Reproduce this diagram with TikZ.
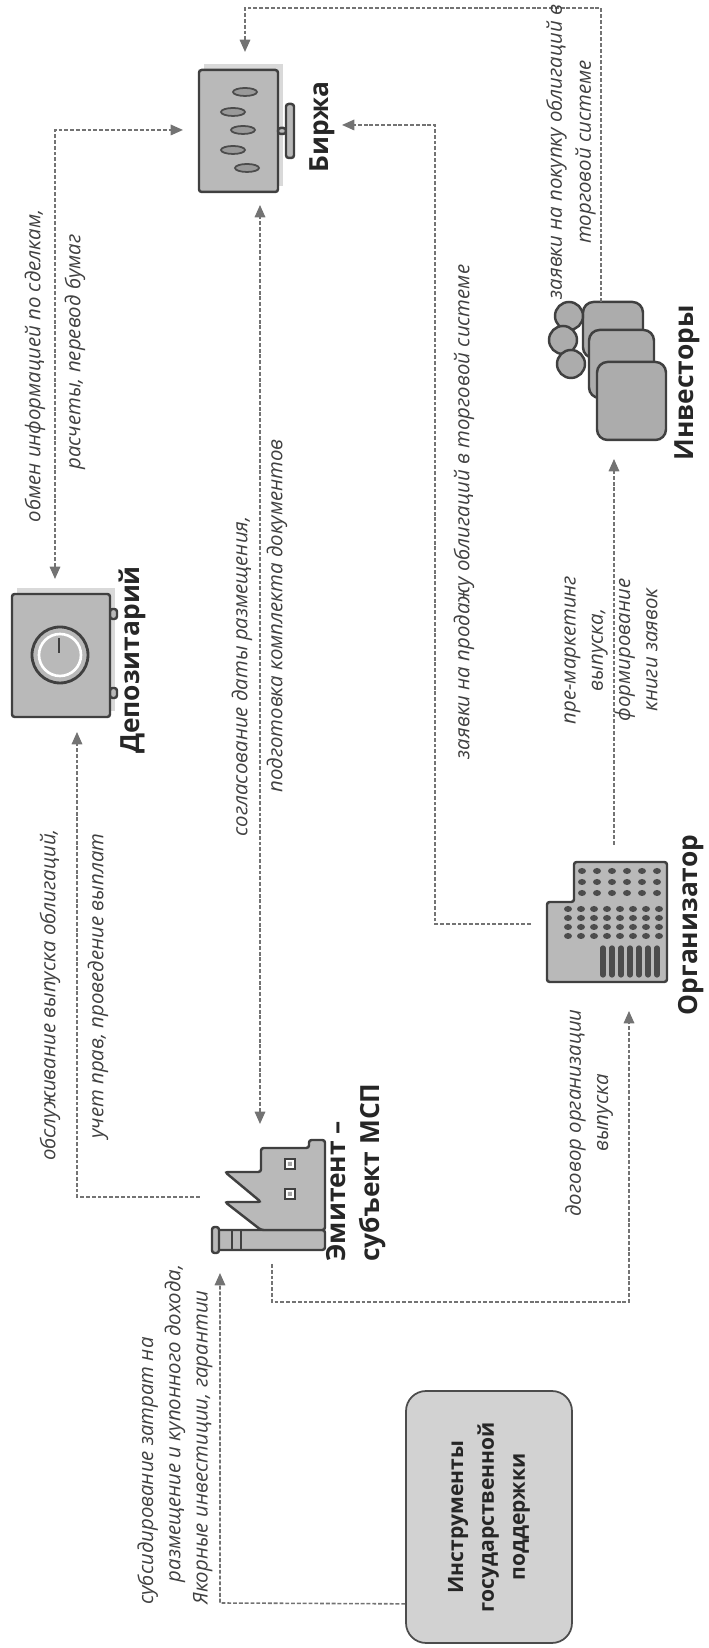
\documentclass[tikz,border=0pt]{standalone}
\usepackage{fontspec}
\setmainfont{Open Sans}
\usetikzlibrary{arrows.meta,calc,shapes}

\begin{document}
\begin{tikzpicture}[x=0.02cm, y=0.02cm, rotate=90, transform shape,
 conn/.style = {draw=black!55, line width=0.9pt, dash pattern=on 2.2pt off 1.1pt,
   >={Triangle[length=7pt, width=6pt]}},
 lbl/.style = {font=\bfseries\fontsize{15}{19}\selectfont, text=black!85, inner sep=0pt, align=left},
 note/.style = {font=\itshape\fontsize{11.6}{15.5}\selectfont, text=black!75, inner sep=0pt, align=center},
 icon/.style = {fill=gray!55, draw=black!75, line width=1.4pt, rounded corners=1.5pt}]

\useasboundingbox (0,0) rectangle (1648,709);

\node[draw=black!70, fill=gray!35, rounded corners=0.4cm, line width=1pt,
 minimum width=5.04cm, minimum height=3.32cm, align=center,
 font=\bfseries\fontsize{12}{17.6}\selectfont, text=black!85] (Gos) at (131,220)
 {Инструменты\\государственной\\поддержки};

\fill[gray!30] (1462,426) rectangle (1584,505);
\draw[icon] (1456,431) rectangle (1578,510);
\draw[icon] (1514,423) rectangle (1520,431);
\draw[icon] (1490,415) rectangle (1544,423);
\foreach \p in {(1556,464),(1536,476),(1518,466),(1498,476),(1480,462)}
 \draw[fill=gray!80, draw=black!70, line width=1pt] \p ellipse (4 and 12);

\fill[gray!30] (937,594) rectangle (1060,692);
\draw[icon] (950,592) rectangle (960,599);
\draw[icon] (1029,592) rectangle (1039,599);
\draw[icon] (931,599) rectangle (1054,697);
\draw[fill=gray!55, draw=black!75, line width=1.6pt] (993,649) circle (28);
\draw[draw=white, line width=1.5pt] (993,649) circle (21);
\draw[black!75, line width=1.6pt] (995,650) -- (1010,650);

\draw[icon] (398,384) rectangle (418,492);
\draw[icon] (395,490) rectangle (421,497);
\draw[black!75, line width=1pt] (398,468) -- (418,468) (398,477) -- (418,477);
\draw[icon] (418,384) -- (418,448) -- (446,484) -- (446,448) -- (476,484) -- (476,448)
 -- (500,448) -- (500,400) -- (508,400) -- (508,384) -- cycle;
\draw[fill=white, draw=black!75, line width=1pt] (449,414) rectangle (459,424) (479,414) rectangle (489,424);
\fill[gray!70] (452,417) rectangle (456,421) (482,417) rectangle (486,421);

\draw[icon] (666,42) -- (786,42) -- (786,135) -- (746,135) -- (746,162) -- (666,162) -- cycle;
\foreach \i in {0,...,3} \foreach \j in {0,...,7}
 \fill[black!70] (712+9*\i,50+13*\j) ellipse (3 and 4);
\foreach \i in {0,...,2} \foreach \j in {0,...,5}
 \fill[black!70] (755+11*\i,52+15*\j) ellipse (3 and 4);
\foreach \j in {0,...,6}
 \draw[black!70, line width=3pt, line cap=round] (673,52+9*\j) -- (700,52+9*\j);

\draw[icon, fill=gray!65, rounded corners=6pt] (1290,66) rectangle (1346,126);
\draw[icon, fill=gray!65, rounded corners=6pt] (1250,55) rectangle (1318,120);
\draw[icon, fill=gray!65, rounded corners=6pt] (1208,43) rectangle (1286,112);
\draw[icon, fill=gray!65] (1332,140) circle (14);
\draw[icon, fill=gray!65] (1308,146) circle (14);
\draw[icon, fill=gray!65] (1284,138) circle (14);

\node[lbl] (Bir) at (1521,387) {Биржа};
\node[lbl] (Dep) at (988,577) {Депозитарий};
\node[lbl] (Inv) at (1265,22) {Инвесторы};
\node[lbl] (Org) at (723,18) {Организатор};
\node[lbl, anchor=west] (Em) at (386,353) {Эмитент –\\субъект МСП};

\coordinate (em-a) at (375,489);
\coordinate (em-b) at (384,437);
\coordinate (em-c) at (451,509);
\coordinate (em-d) at (524,449);
\coordinate (dep-a) at (916,632);
\coordinate (dep-b) at (1069,654);
\coordinate (org-a) at (637,80);
\coordinate (org-b) at (724,178);
\coordinate (org-c) at (803,95);
\coordinate (inv-a) at (1189,95);
\coordinate (inv-b) at (1346,108);
\coordinate (bir-a) at (1443,449);
\coordinate (bir-b) at (1518,526);
\coordinate (bir-c) at (1523,367);
\coordinate (bir-d) at (1596,464);

\draw[conn, ->] ($(Gos.north west)+(40,0)$) -- (45,489) -- (em-a);
\draw[conn, ->] (em-b) -- (346,437) -- (346,80) -- (org-a);
\draw[conn, ->] (em-c) -- (451,632) -- (dep-a);
\draw[conn, <->] (em-d) -- (bir-a);
\draw[conn, <->] (dep-b) -- (1518,654) -- (bir-b);
\draw[conn, ->] (org-b) -- (724,274) -- (1523,274) -- (bir-c);
\draw[conn, ->] (org-c) -- (inv-a);
\draw[conn, ->] (inv-b) -- (1640,108) -- (1640,464) -- (bir-d);

\node[note, anchor=west, align=left] (n1) at (43,534)
 {субсидирование затрат на\\\hspace*{1.1em}размещение и купонного дохода,\\Якорные инвестиции, гарантии};
\node[note] (n2) at (535,120) {договор организации\\выпуска};
\node[note] (n3) at (1136,245) {заявки на продажу облигаций в торговой системе};
\node[note] (n4) at (998,98) {пре-маркетинг\\выпуска,\\формирование\\книги заявок};
\node[note] (n5) at (1496,138) {заявки на покупку облигаций в\\[1pt]торговой системе};
\node[note] (n6) at (653,659) {обслуживание выпуска облигаций,};
\node[note] (n7) at (662,611) {учет прав, проведение выплат};
\node[note, anchor=west] (n8) at (811,467) {согласование даты размещения,};
\node[note, anchor=west] (n9) at (855,432) {подготовка комплекта документов};
\node[note] (n10) at (1282,674) {обмен информацией по сделкам,};
\node[note] (n11) at (1296,634) {расчеты, перевод бумаг};

\end{tikzpicture}
\end{document}
